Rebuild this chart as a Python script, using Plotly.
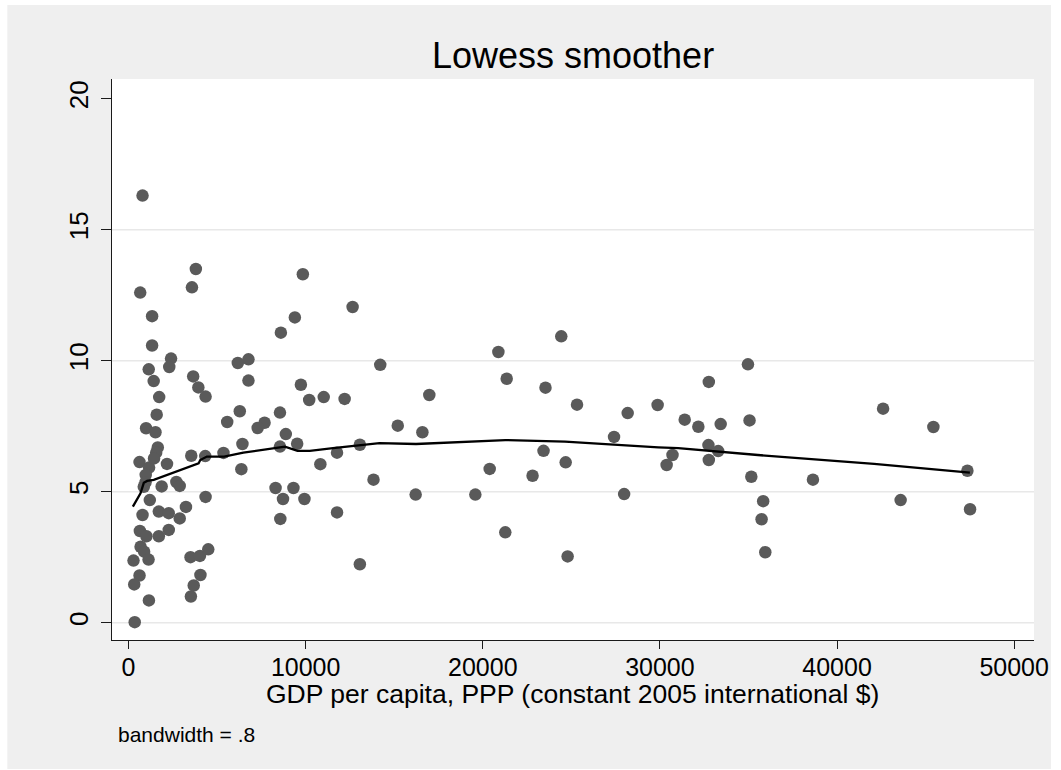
import plotly.graph_objects as go

# ---------------- data ----------------
GDP = [790, 3800, 660, 3580, 1330, 9840, 9390, 8600, 12650, 1330,
       2400, 2300, 1140, 3650, 1420, 6170, 6770, 6770, 3940, 4350,
       1730, 1590, 9730, 10200, 11020, 12200, 6280, 5570, 990, 1520,
       7680, 7290, 8550, 8880, 6430, 9520, 8550, 1650, 1560, 620,
       2170, 3540, 4330, 5360, 11770, 10830, 6370, 1160, 970, 960,
       860, 1870, 2700, 2890, 4350, 1200, 790, 1710, 2270, 3240,
       2890, 8300, 9310, 8720, 9930, 8570, 11770, 640, 1010, 1710,
       2270, 680, 880, 280, 1130, 3500, 4030, 4500, 620, 320,
       4060, 3680, 3520, 1150, 350, 14210, 16980, 15200, 16590, 13060,
       13830, 16210, 13060, 20880, 24430, 21350, 23540, 25320, 28180, 29870,
       27410, 23430, 24680, 30710, 30380, 20390, 22810, 19580, 27980, 21270,
       24790, 34970, 32760, 31400, 32170, 33430, 35060, 42600, 45440, 32740,
       33290, 32760, 35160, 38640, 47360, 35830, 43590, 47510, 35740, 35950,
       1440]
VALUE = [16.3, 13.5, 12.6, 12.8, 11.7, 13.3, 11.65, 11.07, 12.05, 10.58,
         10.08, 9.76, 9.67, 9.40, 9.22, 9.91, 10.05, 9.24, 8.98, 8.63,
         8.61, 7.94, 9.08, 8.50, 8.61, 8.54, 8.07, 7.66, 7.42, 7.27,
         7.63, 7.43, 8.02, 7.20, 6.82, 6.83, 6.72, 6.69, 6.49, 6.13,
         6.06, 6.37, 6.36, 6.48, 6.49, 6.05, 5.86, 5.92, 5.64, 5.36,
         5.19, 5.20, 5.37, 5.22, 4.80, 4.68, 4.11, 4.24, 4.18, 4.42,
         3.98, 5.14, 5.14, 4.72, 4.72, 3.96, 4.21, 3.50, 3.30, 3.30,
         3.54, 2.90, 2.71, 2.37, 2.41, 2.50, 2.55, 2.80, 1.80, 1.46,
         1.82, 1.42, 1.00, 0.85, 0.02, 9.84, 8.69, 7.52, 7.27, 6.79,
         5.46, 4.89, 2.23, 10.33, 10.93, 9.31, 8.97, 8.32, 8.00, 8.31,
         7.09, 6.56, 6.12, 6.40, 6.02, 5.87, 5.61, 4.89, 4.91, 3.45,
         2.53, 9.86, 9.19, 7.75, 7.48, 7.58, 7.72, 8.17, 7.47, 6.78,
         6.55, 6.21, 5.57, 5.46, 5.80, 4.64, 4.68, 4.33, 3.95, 2.69,
         6.27]

LOWESS_X = [244, 675, 862, 1050, 1424, 2174, 3111, 3954, 4048, 4423,
            5396, 6483, 8546, 8827, 9539, 10234, 11543, 12481, 14167, 16230,
            21272, 24645, 27456, 29908, 31033, 35530, 42092, 47500]
LOWESS_Y = [4.43, 4.94, 5.34, 5.41, 5.45, 5.64, 5.89, 6.08, 6.21, 6.34,
            6.34, 6.49, 6.69, 6.72, 6.56, 6.56, 6.66, 6.72, 6.85, 6.82,
            6.97, 6.91, 6.78, 6.69, 6.66, 6.40, 6.06, 5.73]

X_TICKS = [0, 10000, 20000, 30000, 40000, 50000]
Y_TICKS = [0, 5, 10, 15, 20]
GRID_Y = [0, 5, 10, 15]

TITLE = "Lowess smoother"
X_TITLE = "GDP per capita, PPP (constant 2005 international $)"
NOTE = "bandwidth = .8"

# ---------------- layout geometry (pixels) ----------------
W, H = 1061, 770
L, R, T, B = 112, 24, 79, 130
PW, PH = W - L - R, H - T - B

def px(xp):
    return (xp - L) / PW

def py(yp):
    return (H - B - yp) / PH

FONT = "Liberation Sans, Arial, Helvetica, sans-serif"
BG = "#EFEFEF"

fig = go.Figure()
fig.add_trace(go.Scatter(
    x=GDP, y=VALUE, mode="markers",
    marker=dict(color="#5a5a5a", size=12.5, line=dict(width=0)),
    showlegend=False, hoverinfo="x+y"))
fig.add_trace(go.Scatter(
    x=LOWESS_X, y=LOWESS_Y, mode="lines",
    line=dict(color="black", width=2.3),
    showlegend=False))

shapes = [
    dict(type="rect", xref="paper", yref="paper",
         x0=px(7), x1=px(1054), y0=py(769), y1=py(5),
         fillcolor=BG, line=dict(width=0), layer="below"),
    dict(type="rect", xref="paper", yref="paper",
         x0=0, x1=1, y0=0, y1=1,
         fillcolor="white", line=dict(width=0), layer="below"),
]
for g in GRID_Y:
    shapes.append(dict(type="line", xref="paper", yref="y",
                       x0=0, x1=1, y0=g, y1=g,
                       line=dict(color="#E8E8E8", width=1.5), layer="below"))

annotations = [
    dict(text=TITLE, x=px(574.5), y=py(56), xref="paper", yref="paper",
         xanchor="center", yanchor="middle", showarrow=False,
         font=dict(family=FONT, size=36, color="black")),
    dict(text=X_TITLE, x=px(573.5), y=py(694), xref="paper", yref="paper",
         xanchor="center", yanchor="middle", showarrow=False,
         font=dict(family=FONT, size=26.5, color="black")),
    dict(text=NOTE, x=px(116.5), y=py(734), xref="paper", yref="paper",
         xanchor="left", yanchor="middle", showarrow=False,
         font=dict(family=FONT, size=21, color="black")),
]

fig.update_layout(
    width=W, height=H,
    margin=dict(l=L, r=R, t=T, b=B, pad=0),
    paper_bgcolor="white", plot_bgcolor="white",
    shapes=shapes, annotations=annotations,
    font=dict(family=FONT, color="black"),
    xaxis=dict(range=[-934, 51120], tickvals=X_TICKS,
               ticktext=[str(v) for v in X_TICKS],
               showgrid=False, zeroline=False,
               showline=True, linecolor="#1a1a1a", linewidth=1.3,
               ticks="outside", ticklen=8, tickwidth=1.3, tickcolor="#1a1a1a",
               tickfont=dict(family=FONT, size=25, color="black"),
               ticklabelstandoff=-3),
    yaxis=dict(range=[-0.66, 20.75], tickvals=Y_TICKS,
               ticktext=[str(v) for v in Y_TICKS],
               showgrid=False, zeroline=False,
               showline=True, linecolor="#1a1a1a", linewidth=1.3,
               ticks="outside", ticklen=10, tickwidth=1.3, tickcolor="#1a1a1a",
               tickangle=-90,
               tickfont=dict(family=FONT, size=26, color="black"),
               ticklabelstandoff=2),
)

fig.write_html("out.html")
